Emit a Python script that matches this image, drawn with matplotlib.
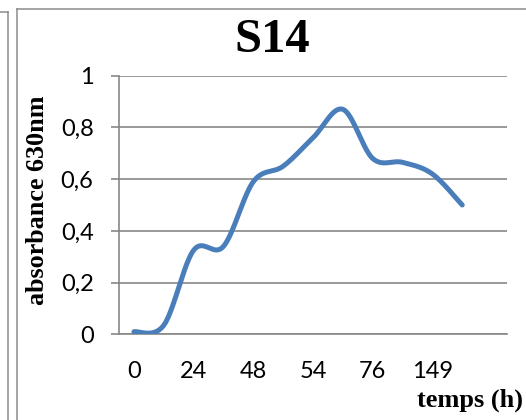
import numpy as np
import matplotlib
matplotlib.use("Agg")
import matplotlib.pyplot as plt
from matplotlib.lines import Line2D

# Growth curve of strain S14: absorbance at 630 nm over time
absorbance = [0.01, 0.035, 0.325, 0.34, 0.59, 0.65, 0.76, 0.87, 0.68, 0.665, 0.62, 0.50]
time_labels = ["0", "24", "48", "54", "76", "149"]   # shown on every other category
n_categories = 13
y_ticks = [0, 0.2, 0.4, 0.6, 0.8, 1.0]
y_tick_labels = ["0", "0,2", "0,4", "0,6", "0,8", "1"]


def smooth_curve(xs, ys, steps=40):
    """Catmull-Rom style smoothing through every point (cubic Bezier per segment)."""
    pts = np.column_stack([xs, ys]).astype(float)
    padded = np.vstack([pts[0], pts, pts[-1]])
    out = []
    t = np.linspace(0, 1, steps)[:, None]
    for i in range(len(pts) - 1):
        p0, p1, p2, p3 = padded[i], padded[i + 1], padded[i + 2], padded[i + 3]
        b1 = p1 + (p2 - p0) / 6.0
        b2 = p2 - (p3 - p1) / 6.0
        seg = ((1 - t) ** 3) * p1 + 3 * ((1 - t) ** 2) * t * b1 + 3 * (1 - t) * t ** 2 * b2 + t ** 3 * p2
        out.append(seg if i == 0 else seg[1:])
    seg = np.vstack(out)
    return seg[:, 0], seg[:, 1]


W, H = 526, 420
fig = plt.figure(figsize=(W / 100, H / 100), dpi=100)
fig.patch.set_facecolor("white")

ax = fig.add_axes([119 / W, 1 - 334.3 / H, (507 - 119) / W, (334.3 - 75.7) / H])

x = np.arange(len(absorbance))
sx, sy = smooth_curve(x, absorbance)
ax.plot(sx, sy, color="#4A7EBB", lw=3.6, solid_capstyle="round", zorder=3)

ax.set_xlim(-0.5, n_categories - 0.5)
ax.set_ylim(0, 1)

grid_color = "#878787"
ax.set_yticks(y_ticks)
ax.set_yticklabels(y_tick_labels)
ax.yaxis.grid(True, color=grid_color, lw=1.2)
ax.set_axisbelow(True)

ax.set_xticks(np.arange(0, 2 * len(time_labels), 2))
ax.set_xticklabels(time_labels)

for side in ["top", "right"]:
    ax.spines[side].set_visible(False)
ax.spines["left"].set_color(grid_color)
ax.spines["left"].set_linewidth(1.2)
ax.spines["bottom"].set_color(grid_color)
ax.spines["bottom"].set_linewidth(1.2)

tick_font = "Lato"
ax.tick_params(axis="y", length=5.8, width=1.2, color=grid_color, pad=12.5,
               labelsize=17, labelcolor="black")
ax.tick_params(axis="x", length=0, pad=19, labelsize=17, labelcolor="black")
for lab in ax.get_xticklabels() + ax.get_yticklabels():
    lab.set_fontfamily(tick_font)

ax.set_ylabel("absorbance 630nm", fontfamily="Liberation Serif", fontweight="bold",
              fontsize=18.8, labelpad=0)
ax.yaxis.set_label_coords((49 - 119) / (507 - 119), (334.3 - 200) / (334.3 - 75.7))

fig.text(470 / W, 1 - 400 / H, "temps (h)", fontfamily="Liberation Serif",
         fontweight="bold", fontsize=19, ha="center", va="center")

fig.text(272 / W, 1 - 40 / H, "S14", fontfamily="Liberation Serif",
         fontweight="bold", fontsize=35, ha="center", va="center")

# chart frames
frame = "#8c8c8c"
fig.add_artist(Line2D([16.5 / W, 16.5 / W], [0, 1 - 8.5 / H], color=frame, lw=1.1))
fig.add_artist(Line2D([16.5 / W, 1], [1 - 8.5 / H, 1 - 8.5 / H], color=frame, lw=1.1))
fig.add_artist(Line2D([7.5 / W, 7.5 / W], [0, 1 - 11.5 / H], color=frame, lw=1.1))
fig.add_artist(Line2D([0, 7.5 / W], [1 - 11.5 / H, 1 - 11.5 / H], color=frame, lw=1.1))

fig.savefig("out.png", dpi=100, facecolor="white")
